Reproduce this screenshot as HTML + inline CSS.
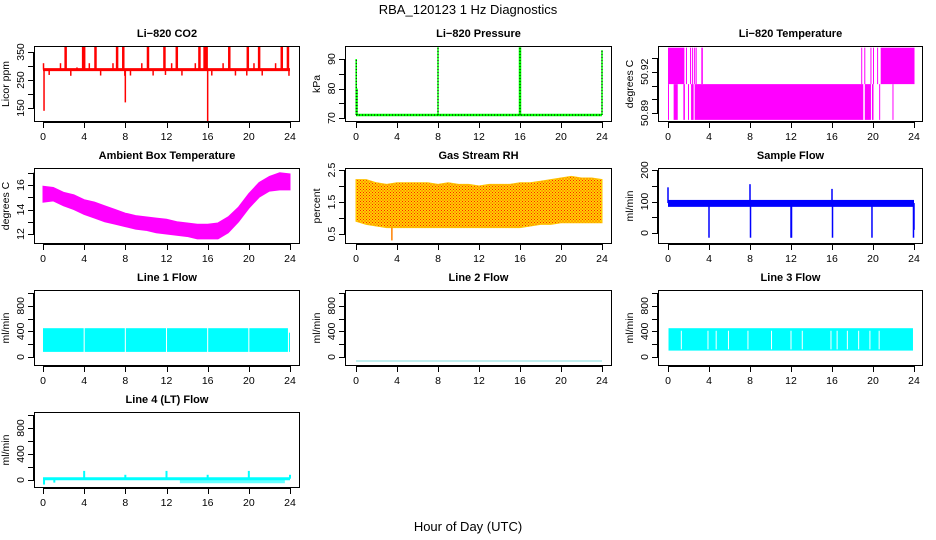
<!DOCTYPE html>
<html><head><meta charset="utf-8"><title>RBA_120123 1 Hz Diagnostics</title>
<style>
html,body{margin:0;padding:0;background:#fff;}
svg{display:block;font-family:"Liberation Sans",Arial,sans-serif;}
</style></head>
<body>
<svg id="chart" xmlns="http://www.w3.org/2000/svg" width="936" height="540" viewBox="0 0 936 540">
<defs>
<pattern id="rhpat" width="3" height="3" patternUnits="userSpaceOnUse">
<rect width="3" height="3" fill="#ffd200"/><rect width="1" height="1" fill="#ff2000"/><rect x="1.5" y="1.5" width="1" height="1" fill="#ff2000"/>
</pattern>
</defs>
<text x="468" y="14" text-anchor="middle" font-size="13">RBA_120123  1 Hz Diagnostics</text>
<text x="468" y="531" text-anchor="middle" font-size="13">Hour of Day (UTC)</text>
</svg>
<script>
// ---------- data ----------
const hours = [0,1,2,3,4,5,6,7,8,9,10,11,12,13,14,15,16,17,18,19,20,21,22,23,24];
const xTickLabels = ["0","4","8","12","16","20","24"];

const co2Base = 287;
const co2SpikeT = [0.05,0.1,0.6,1.7,2.2,2.7,3.3,3.9,4.0,4.5,5.1,5.6,6.8,7.2,7.8,7.95,8.0,8.5,9.6,10.2,10.7,11.8,11.9,12.5,13.0,13.5,14.8,15.2,15.7,15.9,16.0,16.4,17.5,18.1,18.7,19.8,19.9,20.5,21.0,21.3,22.6,23.2,23.8,23.9];
const co2SpikeV = [310,140,268,310,370,265,295,370,372,310,370,266,310,370,372,265,170,266,310,370,266,370,268,310,370,266,310,370,370,370,85,266,310,370,266,266,370,310,370,266,310,370,370,265];

const presBase = 71;
const presSpikeT = [0.02,0.1,8.0,16.0,24.0];
const presSpikeV = [90,80,94,94,93];

const tempHiLevel = 50.9375, tempMidLevel = 50.911, tempLoLevel = 50.885;
const tempHiBands = [[0,1.6],[1.75,1.85],[2.15,2.25],[2.35,2.45],[2.55,2.6],[2.7,2.75],[3.25,3.4],[18.85,18.9],[19.15,19.2],[19.75,19.8],[20.0,20.05],[20.4,20.45],[20.75,24.05]];
const tempLoBands = [[0,0.05],[0.55,0.95],[1.5,1.65],[1.95,2.05],[2.25,2.5],[2.6,19.05],[19.2,19.8],[19.9,20.05],[20.6,20.7],[21.9,21.95]];

const ambLo = [14.6,14.7,14.3,14.0,13.6,13.3,13.0,12.8,12.6,12.4,12.3,12.1,12.0,11.9,11.8,11.6,11.6,11.6,12.1,13.0,14.1,15.0,15.5,15.6,15.6];
const ambHi = [15.9,15.8,15.4,15.2,14.8,14.6,14.3,14.0,13.7,13.5,13.4,13.3,13.2,13.0,12.9,12.8,12.8,12.9,13.4,14.2,15.3,16.2,16.7,17.0,16.9];

const rhLo = [0.9,0.8,0.75,0.7,0.7,0.7,0.7,0.7,0.7,0.7,0.7,0.7,0.7,0.7,0.7,0.7,0.7,0.75,0.8,0.8,0.85,0.85,0.85,0.85,0.85];
const rhHi = [2.2,2.2,2.1,2.05,2.1,2.1,2.1,2.1,2.05,2.1,2.05,2.05,2.0,2.05,2.05,2.05,2.1,2.1,2.15,2.2,2.25,2.3,2.25,2.25,2.2];

const sfLo = 83, sfHi = 105;
const sfSpikeT = [0.0,4.0,8.0,12.0,16.0,19.9,23.95,24.0];
const sfSpikeV = [145,-15,155,-15,140,-15,-15,10];
const sfDownT = [8.0,12.0,16.0];
const sfDownV = [-15,-15,-15];

const l1Lo = 80, l1Hi = 450;
const l1Segments = [[0,3.95],[4.05,7.95],[8.05,11.95],[12.05,15.95],[16.05,19.95],[20.05,23.8],[23.9,24.0]];

const l2Value = -62;

const l3Lo = 100, l3Hi = 450;
const l3Gaps = [1.3,3.9,4.7,5.9,7.8,10.1,12.0,13.1,15.9,16.5,17.5,18.6,19.7,20.6];

const l4Base = 20;
const l4NoiseLo = -50, l4NoiseStart = 13.3, l4NoiseEnd = 23.5;
const l4SpikeT = [0.1,1.1,4.0,8.0,12.0,16.0,20.0,24.0];
const l4SpikeV = [-70,-40,140,80,140,80,140,80];

// ---------- layout ----------
const NS = "http://www.w3.org/2000/svg";
const svg = document.getElementById("chart");
const cols = [{l:34,r:300,x0:43,x24:290},{l:345,r:612,x0:356,x24:602},{l:658,r:923,x0:668,x24:914}];
const rowTops = [46,168,290,412];
const BH = 76;

function mk(tag, attrs, parent){
  const e = document.createElementNS(NS, tag);
  for (const k in attrs) e.setAttribute(k, attrs[k]);
  (parent||svg).appendChild(e);
  return e;
}

function panel(name, title, row, col, yTitle, ticks, labels, v0, p0, v1, p1){
  const c = cols[col], top = rowTops[row];
  const g = mk("g", {});
  
  
  const xs = t => c.x0 + (c.x24 - c.x0) * t / 24;
  const ys = v => top + p0 + (v - v0) * (p1 - p0) / (v1 - v0);
  const plot = mk("g", {}, g);
  
  
  const t = mk("text", {x:(c.l+c.r)/2, y:top-9, "text-anchor":"middle", "font-size":"11", "font-weight":"bold"}, g);
  
  
  t.textContent = title;
  const xa = mk("g", {stroke:"#000","stroke-width":"1"}, g);
  
  
  mk("line", {x1:xs(0), x2:xs(24), y1:top+BH+0.5, y2:top+BH+0.5}, xa);
  xTickLabels.forEach(lab => {
    const x = Math.round(xs(+lab)) + 0.5;
    mk("line", {x1:x, x2:x, y1:top+BH, y2:top+BH+6}, xa);
  });
  xTickLabels.forEach(lab => {
    const tx = mk("text", {x:xs(+lab), y:top+BH+18, "text-anchor":"middle", "font-size":"10.5", stroke:"none"}, xa);
    
    
    tx.textContent = lab;
  });
  const ya = mk("g", {stroke:"#000","stroke-width":"1"}, g);
  
  
  mk("line", {x1:c.l-0.5, x2:c.l-0.5, y1:ys(ticks[0]), y2:ys(ticks[ticks.length-1])}, ya);
  ticks.forEach(tv => {
    const y = Math.round(ys(tv)) + 0.5;
    mk("line", {x1:c.l-6, x2:c.l, y1:y, y2:y}, ya);
  });
  labels.forEach(lab => {
    const y = ys(+lab), x = c.l - 10;
    const tx = mk("text", {x:x, y:y, transform:`rotate(-90 ${x} ${y})`, "text-anchor":"middle", "font-size":"10.5", stroke:"none"}, ya);
    
    
    tx.textContent = lab;
  });
  const yx = c.l - 25, yy = top + BH/2;
  const yt = mk("text", {x:yx, y:yy, transform:`rotate(-90 ${yx} ${yy})`, "text-anchor":"middle", "font-size":"10.5"}, g);
  
  
  yt.textContent = yTitle;
  const clipId = "clip-" + name;
  const cp = mk("clipPath", {id:clipId}, g);
  mk("rect", {x:c.l, y:top, width:c.r-c.l, height:BH}, cp);
  plot.setAttribute("clip-path", `url(#${clipId})`);
  return {plot, xs, ys, finish(){
    const f = mk("rect", {x:c.l+0.5, y:top+0.5, width:c.r-c.l-1, height:BH-1, fill:"none", stroke:"#000", "stroke-width":"1"}, g);
    
    
  }};
}

function band(p, lo, hi, fill, name){
  let d = "M" + hours.map((h,i)=>p.xs(h)+","+p.ys(hi[i])).join("L");
  for (let i = hours.length-1; i >= 0; i--) d += "L" + p.xs(hours[i]) + "," + p.ys(lo[i]);
  const e = mk("path", {d:d+"Z", fill:fill, stroke:fill, "stroke-width":"1"}, p.plot);
  
  
  return e;
}
function vline(p, t, v1, v2, color, w, name){
  const x = p.xs(t);
  const e = mk("line", {x1:x, x2:x, y1:p.ys(v1), y2:p.ys(v2), stroke:color, "stroke-width":w}, p.plot);
  
  
  return e;
}
function hline(p, t1, t2, v, color, w, name){
  const e = mk("line", {x1:p.xs(t1), x2:p.xs(t2), y1:p.ys(v), y2:p.ys(v), stroke:color, "stroke-width":w}, p.plot);
  
  
  return e;
}
function rectV(p, t1, t2, lo, hi, color, name){
  const x1 = p.xs(t1), x2 = p.xs(t2);
  const e = mk("rect", {x:x1, y:p.ys(hi), width:Math.max(1, x2-x1), height:p.ys(lo)-p.ys(hi), fill:color}, p.plot);
  
  
  return e;
}

// CO2
let p = panel("li820-co2", "Li\u2212820 CO2", 0, 0, "Licor ppm", [150,200,250,300,350], ["150","250","350"], 350, 6, 150, 62);
hline(p, 0, 24, co2Base, "#ff0000", 3, "co2-baseline");
co2SpikeT.forEach((t,i) => vline(p, t, co2Base, co2SpikeV[i], "#ff0000", co2SpikeV[i] > 350 ? 2.5 : 1.5, "co2-spike"));
p.finish();

// Pressure
p = panel("li820-pressure", "Li\u2212820 Pressure", 0, 1, "kPa", [70,75,80,85,90], ["70","80","90"], 70, 72, 90, 13);
hline(p, 0, 24, presBase, "#00ff00", 2.5, "pressure-baseline");
hline(p, 0, 24, presBase, "#000", 1, "pressure-baseline-dots").setAttribute("stroke-dasharray","1 2");
presSpikeT.forEach((t,i) => {
  vline(p, t, presBase, presSpikeV[i], "#00ff00", presSpikeT[i] === 16 ? 2.5 : 1.5, "pressure-spike");
  vline(p, t, presBase, presSpikeV[i], "#000", 1, "pressure-spike-dots").setAttribute("stroke-dasharray","1 2");
});
p.finish();

// Li-820 temperature
p = panel("li820-temperature", "Li\u2212820 Temperature", 0, 2, "degrees C", [50.89,50.90,50.91,50.92,50.93], ["50.89","50.92"], 50.89, 67, 50.93, 12);
tempHiBands.forEach(b => rectV(p, b[0], b[1], tempMidLevel, tempHiLevel, "#ff00ff", "temp-high-band"));
tempLoBands.forEach(b => rectV(p, b[0], b[1], tempLoLevel, tempMidLevel, "#ff00ff", "temp-low-band"));
p.finish();

// Ambient
p = panel("ambient-box-temperature", "Ambient Box Temperature", 1, 0, "degrees C", [12,13,14,15,16,17], ["12","14","16"], 12, 66, 16, 17);
band(p, ambLo, ambHi, "#ff00ff", "ambient-temp-band");
p.finish();

// RH
p = panel("gas-stream-rh", "Gas Stream RH", 1, 1, "percent", [0.5,1,1.5,2,2.5], ["0.5","1.5","2.5"], 0.5, 66, 2.5, 2);
band(p, rhLo, rhHi, "url(#rhpat)", "rh-band").setAttribute("stroke","#ffc000");
vline(p, 3.5, 0.7, 0.3, "#ff8000", 1.5, "rh-spike");
p.finish();

// Sample flow
p = panel("sample-flow", "Sample Flow", 1, 2, "ml/min", [0,50,100,150,200], ["0","100","200"], 0, 65, 200, 2);
rectV(p, 0, 24, sfLo, sfHi, "#0000ff", "sample-flow-band");
sfSpikeT.forEach((t,i) => vline(p, t, 95, sfSpikeV[i], "#0000ff", 1.5, "sample-flow-spike"));
sfDownT.forEach((t,i) => vline(p, t+0.05, 95, sfDownV[i], "#0000ff", 1.5, "sample-flow-spike"));
p.finish();

// Line 1
p = panel("line1-flow", "Line 1 Flow", 2, 0, "ml/min", [0,200,400,600,800,1000], ["0","400","800"], 0, 67, 1000, 3);
l1Segments.forEach(s => rectV(p, s[0], s[1], l1Lo, s[1] >= 24 ? 380 : l1Hi, "#00ffff", "line1-flow-band"));
p.finish();

// Line 2
p = panel("line2-flow", "Line 2 Flow", 2, 1, "ml/min", [0,200,400,600,800,1000], ["0","400","800"], 0, 67, 1000, 3);
hline(p, 0, 24, l2Value, "#7fdcdc", 1, "line2-flow-line");
p.finish();

// Line 3
p = panel("line3-flow", "Line 3 Flow", 2, 2, "ml/min", [0,200,400,600,800,1000], ["0","400","800"], 0, 67, 1000, 3);
rectV(p, 0.05, 23.9, l3Lo, l3Hi, "#00ffff", "line3-flow-band");
l3Gaps.forEach(t => vline(p, t, l3Lo + 20, l3Hi - 40, "#ffffff", 1, "line3-flow-gap"));
p.finish();

// Line 4
p = panel("line4-flow", "Line 4 (LT) Flow", 3, 0, "ml/min", [0,200,400,600,800,1000], ["0","400","800"], 0, 68, 1000, 3);
hline(p, 0, 24, l4Base, "#00ffff", 3, "line4-flow-baseline");
rectV(p, l4NoiseStart, l4NoiseEnd, l4NoiseLo, l4Base, "#00ffff", "line4-flow-noise").setAttribute("fill-opacity","0.6");
l4SpikeT.forEach((t,i) => vline(p, t, l4Base, l4SpikeV[i], "#00ffff", 2, "line4-flow-spike"));
p.finish();
</script>
</body></html>
